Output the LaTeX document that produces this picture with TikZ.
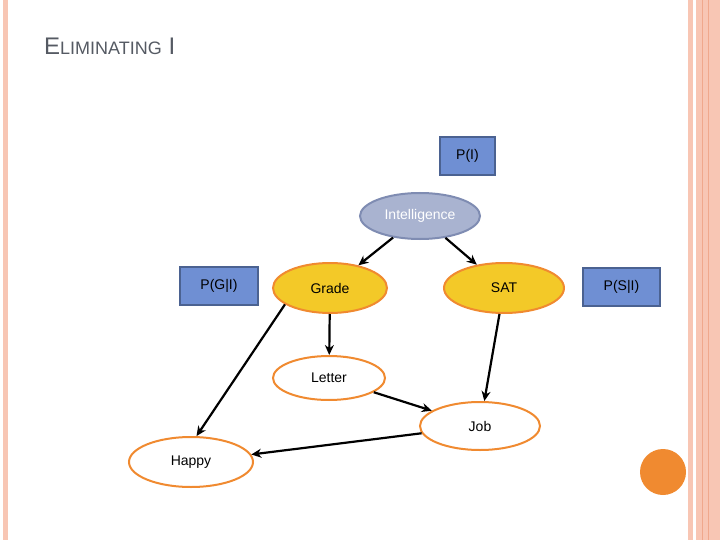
\documentclass[tikz,border=0pt]{standalone}
\usepackage{fontspec}
\setmainfont{Liberation Sans}
\usetikzlibrary{shapes.geometric,arrows.meta}
\definecolor{salmon}{HTML}{F8C6B4}
\definecolor{salmond}{HTML}{F0A88C}
\definecolor{boxfill}{HTML}{6F8FD3}
\definecolor{boxline}{HTML}{4B6291}
\definecolor{intfill}{HTML}{A9B3D0}
\definecolor{intline}{HTML}{7F8CB2}
\definecolor{ylw}{HTML}{F3C928}
\definecolor{org}{HTML}{F08A30}
\definecolor{ttl}{HTML}{555A63}
\begin{document}
\begin{tikzpicture}[x=1pt,y=-1pt,
 box/.style={draw=boxline,line width=2pt,fill=boxfill,minimum height=38pt,font=\fontsize{14pt}{16pt}\selectfont,inner sep=0pt},
 ell/.style={ellipse,draw=org,line width=2pt,inner sep=0pt,font=\fontsize{14pt}{16pt}\selectfont},
 arr/.style={-{Stealth[length=10pt,width=9pt]},line width=2.2pt,black}]
\useasboundingbox (0,0) rectangle (720,540);
\fill[salmon] (3,0) rectangle (8,540);
\fill[salmon] (688,0) rectangle (693,540);
\fill[salmon] (696,0) rectangle (720,540);
\draw[salmond,line width=0.8pt] (702,0) -- (702,540) (708,0) -- (708,540);
\node[font=\fontsize{24pt}{26pt}\selectfont,color=ttl,anchor=west,inner sep=0pt] (title) at (44,46) {E{\fontsize{18pt}{20pt}\selectfont LIMINATING} I};
\node[box,minimum width=55pt] (pi) at (467.5,156) {P(I)};
\node[ellipse,draw=intline,line width=2pt,fill=intfill,minimum width=120pt,minimum height=46pt,text=white,font=\fontsize{14pt}{16pt}\selectfont] (int) at (420,216) {Intelligence};
\node[box,minimum width=78pt] (pg) at (219,286) {P(G|I)};
\node[box,minimum width=77pt] (ps) at (621.5,286.5) {P(S|I)};
\node[ell,fill=ylw,minimum width=114pt,minimum height=50pt] (grade) at (330,288) {Grade};
\node[ell,fill=ylw,minimum width=120pt,minimum height=50pt] (sat) at (504,288) {SAT};
\node[ell,fill=white,minimum width=112pt,minimum height=44pt] (letter) at (329,378) {Letter};
\node[ell,fill=white,minimum width=120pt,minimum height=48pt] (job) at (480,426) {Job};
\node[ell,fill=white,minimum width=124pt,minimum height=50pt] (happy) at (191,462) {Happy};
\node[circle,fill=org,minimum size=46pt,inner sep=0pt] (dot) at (663,472) {};
\draw[arr] (int) -- (grade);
\draw[arr] (int) -- (sat);
\draw[arr] (grade) -- (letter);
\draw[arr] (letter) -- (job);
\draw[arr] (sat) -- (job);
\draw[arr] (grade.200) -- (happy.78);
\draw[arr] (job) -- (happy);
\end{tikzpicture}
\end{document}
